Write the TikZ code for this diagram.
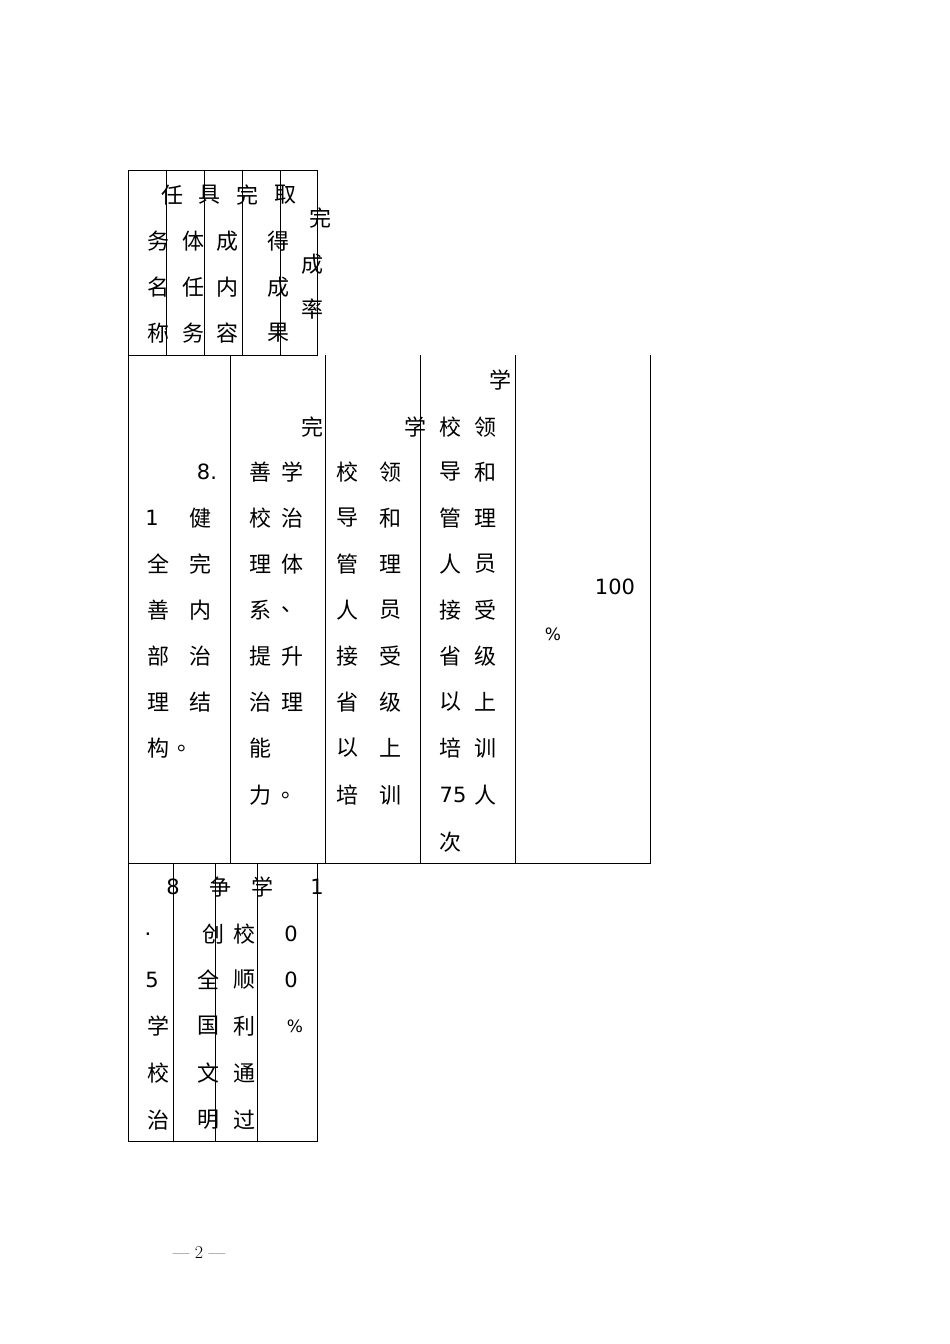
\documentclass[tikz,border=0pt]{standalone}
\usepackage{fontspec}
\newfontfamily\cjk{Noto Sans CJK SC}
\newfontfamily\lat{DejaVu Sans}
\begin{document}
\begin{tikzpicture}[x=1pt,y=-1pt,
  cell/.style={inner sep=0pt,font=\cjk\fontsize{22}{22}\selectfont},
  num/.style={inner sep=0pt,font=\lat\fontsize{21}{21}\selectfont},
  rule/.style={draw=black,line width=0.8pt}]
\useasboundingbox (0,0) rectangle (950,1344);
\fill[white] (0,0) rectangle (950,1344);
\newcommand\C[3]{\node[cell] at (#1,#2) {#3};}
\newcommand\N[3]{\node[num] at (#1,#2) {#3};}
% top table
\draw[rule] (128,170) rectangle (317,355);
\foreach \x in {166,204,242,280} \draw[rule] (\x,170) -- (\x,355);
\C{172}{195}{任}\C{209}{195}{具}\C{247}{195}{完}\C{285}{195}{取}
\C{158}{241}{务}\C{193}{241}{体}\C{227}{241}{成}\C{278}{241}{得}
\C{158}{287}{名}\C{193}{287}{任}\C{227}{287}{内}\C{278}{287}{成}
\C{158}{333}{称}\C{193}{333}{务}\C{227}{333}{容}\C{278}{333}{果}
\C{320}{218}{完}\C{312}{264}{成}\C{312}{309}{率}
% middle table
\draw[rule] (128,355) -- (128,863) -- (650,863) -- (650,355);
\foreach \x in {230,325,420,515} \draw[rule] (\x,355) -- (\x,863);
\N{207}{472}{8.}
\N{152}{518}{1}\C{200}{518}{健}
\C{158}{564}{全}\C{200}{564}{完}
\C{158}{610}{善}\C{200}{610}{内}
\C{158}{656}{部}\C{200}{656}{治}
\C{158}{702}{理}\C{200}{702}{结}
\C{158}{748}{构}\C{188}{748}{。}
\C{312}{427}{完}
\C{260}{472}{善}\C{292}{472}{学}
\C{260}{518}{校}\C{292}{518}{治}
\C{260}{564}{理}\C{292}{564}{体}
\C{260}{610}{系}\C{292}{610}{、}
\C{260}{656}{提}\C{292}{656}{升}
\C{260}{702}{治}\C{292}{702}{理}
\C{260}{748}{能}
\C{260}{795}{力}\C{292}{795}{。}
\C{415}{427}{学}
\C{347}{472}{校}\C{390}{472}{领}
\C{347}{518}{导}\C{390}{518}{和}
\C{347}{564}{管}\C{390}{564}{理}
\C{347}{610}{人}\C{390}{610}{员}
\C{347}{656}{接}\C{390}{656}{受}
\C{347}{702}{省}\C{390}{702}{级}
\C{347}{748}{以}\C{390}{748}{上}
\C{347}{795}{培}\C{390}{795}{训}
\C{500}{380}{学}
\C{450}{427}{校}\C{485}{427}{领}
\C{450}{472}{导}\C{485}{472}{和}
\C{450}{518}{管}\C{485}{518}{理}
\C{450}{564}{人}\C{485}{564}{员}
\C{450}{610}{接}\C{485}{610}{受}
\C{450}{656}{省}\C{485}{656}{级}
\C{450}{702}{以}\C{485}{702}{上}
\C{450}{748}{培}\C{485}{748}{训}
\N{453}{795}{75}\C{485}{795}{人}
\C{450}{842}{次}
\N{615}{587}{100}
\node[num,font=\lat\fontsize{17}{17}\selectfont] at (553,634) {\%};
% bottom table
\draw[rule] (128,863) rectangle (317,1141);
\foreach \x in {173,215,257} \draw[rule] (\x,863) -- (\x,1141);
\N{173}{887}{8}\C{220}{887}{争}\C{262}{887}{学}\N{317}{887}{1}
\N{148}{934}{.}\C{213}{934}{创}\C{244}{934}{校}\N{291}{934}{0}
\N{152}{980}{5}\C{208}{980}{全}\C{244}{980}{顺}\N{291}{980}{0}
\C{158}{1026}{学}\C{208}{1026}{国}\C{244}{1026}{利}
\node[num,font=\lat\fontsize{17}{17}\selectfont] at (295,1026) {\%};
\C{158}{1073}{校}\C{208}{1073}{文}\C{244}{1073}{通}
\C{158}{1120}{治}\C{208}{1120}{明}\C{244}{1120}{过}
\node[inner sep=0pt,font=\fontsize{18}{18}\selectfont] (pg) at (199,1253) {— 2 —};
\end{tikzpicture}
\end{document}
